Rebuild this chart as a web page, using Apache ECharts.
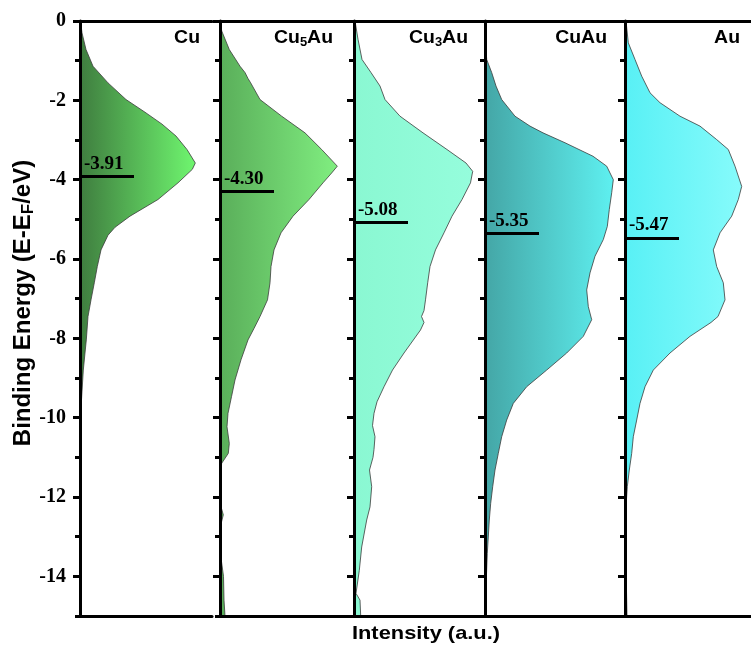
<!DOCTYPE html>
<html>
<head>
<meta charset="utf-8">
<script src="https://cdn.jsdelivr.net/npm/echarts@6/dist/echarts.min.js"></script>
<style>
  html, body { margin: 0; padding: 0; background: #fff; }
  #chart { width: 751px; height: 646px; }
</style>
</head>
<body>
<div id="chart"></div>
<script>
// ---- data: projected d-band density of states (a.u.) vs binding energy (eV) ----
const energyCu = [0, -0.3, -0.72, -1.14, -1.56, -1.98, -2.3, -2.6, -2.9, -3.24, -3.58, -3.74, -4.08, -4.5, -4.92, -5.2, -5.4, -5.77, -6.19, -6.6, -7.03, -7.45, -8.04, -8.8, -9.63, -10.05, -11, -12, -13, -14, -15];
const dosCu    = [0.05, 0.2, 0.6, 1.3, 2.8, 4.6, 6.5, 8.2, 9.6, 10.7, 11.53, 11.23, 9.8, 7.8, 5.0, 3.5, 2.8, 2.1, 1.73, 1.43, 1.1, 0.8, 0.63, 0.33, 0.13, 0.03, 0.03, 0.03, 0.03, 0.03, 0.03];

const energyCu5Au = [0, -0.25, -0.72, -1.14, -1.3, -1.45, -1.56, -1.98, -2.4, -2.82, -3.24, -3.66, -3.83, -4.08, -4.5, -4.92, -5.34, -5.77, -6.19, -6.6, -7.03, -7.45, -7.75, -8.04, -8.54, -9.05, -9.47, -9.89, -10.23, -10.65, -10.9, -11.15, -11.4, -12.2, -12.45, -12.7, -13.5, -14, -14.6, -15];
const dosCu5Au    = [0.05, 0.17, 0.93, 2.0, 2.5, 2.8, 3.07, 4.0, 6.17, 8.5, 10.17, 11.73, 11.17, 10.3, 8.9, 7.3, 6.1, 5.4, 5.1, 5.0, 4.75, 4.0, 3.4, 2.8, 2.1, 1.5, 1.15, 0.8, 0.7, 0.93, 0.83, 0.17, 0.05, 0.05, 0.33, 0.08, 0.08, 0.35, 0.4, 0.5];

const energyCu3Au = [0, -0.46, -0.97, -1.3, -1.64, -1.98, -2.4, -2.82, -3.24, -3.58, -3.79, -4.08, -4.5, -4.92, -5.34, -5.77, -6.19, -6.6, -7.03, -7.3, -7.45, -7.6, -7.79, -8.37, -8.8, -9.22, -9.6, -9.89, -10.2, -10.48, -10.8, -11.0, -11.32, -11.74, -12.25, -12.58, -13.26, -13.85, -14.43, -14.6, -15];
const dosCu3Au    = [0.1, 0.4, 0.8, 1.7, 2.6, 3.1, 4.6, 6.9, 9.3, 11.2, 11.87, 11.65, 10.8, 9.8, 9.0, 8.15, 7.6, 7.37, 7.15, 7.0, 6.75, 7.0, 6.65, 5.0, 3.85, 3.0, 2.3, 2.0, 1.85, 2.1, 2.0, 1.9, 1.55, 1.77, 1.6, 1.27, 0.77, 0.53, 0.2, 0.6, 0.67];

const energyCuAu = [0, -0.5, -0.97, -1.3, -1.64, -1.98, -2.4, -2.65, -2.82, -3.07, -3.41, -3.66, -4.0, -4.33, -4.75, -5.18, -5.51, -5.93, -6.35, -6.78, -7.2, -7.53, -7.95, -8.37, -8.8, -9.22, -9.64, -10.06, -10.48, -10.9, -11.32, -11.74, -12.16, -12.58, -13.42, -14.26, -15];
const dosCuAu    = [0, 0.05, 0.17, 0.67, 1.1, 1.67, 3.0, 4.5, 5.8, 8.0, 10.8, 12.17, 12.83, 12.67, 12.43, 12.23, 11.83, 11.0, 10.5, 10.17, 10.33, 10.67, 9.83, 8.17, 6.17, 4.17, 2.83, 2.17, 1.67, 1.33, 1.0, 0.77, 0.57, 0.43, 0.23, 0.1, 0.03];

const energyAu = [0, -0.55, -0.97, -1.39, -1.81, -2.06, -2.4, -2.65, -2.99, -3.24, -3.66, -4.17, -4.5, -4.92, -5.34, -5.77, -6.19, -6.6, -7.03, -7.45, -7.6, -7.95, -8.37, -8.8, -9.22, -9.64, -10.06, -10.48, -10.9, -11.32, -11.74, -12.25, -13, -14, -15];
const dosAu    = [0.1, 0.33, 1.0, 1.67, 2.5, 3.5, 5.5, 7.5, 9.17, 10.33, 11.0, 11.67, 11.33, 10.67, 9.5, 8.83, 9.17, 9.83, 10.0, 9.3, 8.6, 6.5, 4.5, 2.83, 2.0, 1.5, 1.17, 0.83, 0.67, 0.43, 0.23, 0.1, 0.08, 0.12, 0.2];

const panelNames   = ['{n|Cu}', '{n|Cu}{s|5}{n|Au}', '{n|Cu}{s|3}{n|Au}', '{n|CuAu}', '{n|Au}'];
const dBandCenters = [-3.91, -4.30, -5.08, -5.35, -5.47];
const majorTicks   = [0, -2, -4, -6, -8, -10, -12, -14];
const minorTicks   = [-1, -3, -5, -7, -9, -11, -13, -15];

const energies = [energyCu, energyCu5Au, energyCu3Au, energyCuAu, energyAu];
const doses    = [dosCu, dosCu5Au, dosCu3Au, dosCuAu, dosAu];

// ---- layout & style ----
const panelLeft  = [80, 220, 354, 485, 625];
const panelWidth = [132, 134, 131, 140, 126];
const nameRightX = [200, 333, 468, 607, 740];   // right edge of each panel caption
const pxPerUnit  = 10;          // horizontal scale shared by every panel
const dBandLen   = 5.4;         // length of the d-band-centre marker (a.u.)
const fills = [
  ['#3f7d3f', '#6ff66f'],
  ['#5aae5a', '#80ee80'],
  ['#8af8d2', '#95fddc'],
  ['#44a6a6', '#5ef0f0'],
  ['#58f0f5', '#86fbfb']
];

const serif = "'Liberation Serif', 'Times New Roman', serif";
const sans  = "'Liberation Sans', Arial, sans-serif";

const grid = [], xAxis = [], yAxis = [], series = [], graphic = [];

for (let i = 0; i < 5; i++) {
  grid.push({ left: panelLeft[i], width: panelWidth[i], top: 21, bottom: 30 });

  const xBase = {
    gridIndex: i, type: 'value', min: 0, max: panelWidth[i] / pxPerUnit,
    axisLine: { show: true, onZero: false, lineStyle: { color: '#000', width: 3 } },
    axisTick: { show: false }, axisLabel: { show: false }, splitLine: { show: false }, z: 3
  };
  xAxis.push(Object.assign({ position: 'bottom' }, xBase));
  xAxis.push(Object.assign({ position: 'top' }, xBase));

  yAxis.push({
    gridIndex: i, type: 'value', position: 'left', min: -15, max: 0,
    axisLine: { show: true, onZero: false, lineStyle: { color: '#000', width: 3 } },
    axisTick: { show: true, customValues: majorTicks, length: 7, lineStyle: { color: '#000', width: 3 } },
    axisLabel: {
      show: i === 0, customValues: majorTicks, margin: 14,
      fontFamily: serif, fontWeight: 'bold', fontSize: 20, color: '#000'
    },
    splitLine: { show: false }, z: 3
  });
  yAxis.push({
    gridIndex: i, type: 'value', position: 'left', min: -15, max: 0,
    axisLine: { show: false },
    axisTick: { show: true, customValues: minorTicks, length: 5, lineStyle: { color: '#000', width: 3 } },
    axisLabel: { show: false }, splitLine: { show: false }, z: 3
  });

  const E = energies[i], I = doses[i];
  const pts = E.map((e, j) => [I[j], e]);
  const c = fills[i];

  series.push({
    type: 'custom', xAxisIndex: 2 * i, yAxisIndex: 2 * i, z: 1, silent: true,
    data: pts,
    renderItem: function (params, api) {
      if (params.dataIndex !== 0) return null;
      const poly = [api.coord([0, E[0]])];
      for (let j = 0; j < E.length; j++) poly.push(api.coord([I[j], E[j]]));
      poly.push(api.coord([0, E[E.length - 1]]));
      return {
        type: 'polygon',
        shape: { points: poly },
        style: {
          fill: new echarts.graphic.LinearGradient(0, 0, 1, 0, [
            { offset: 0, color: c[0] }, { offset: 1, color: c[1] }
          ]),
          stroke: '#3b3b3b', lineWidth: 0.8
        }
      };
    },
    markLine: {
      silent: true, symbol: ['none', 'none'], z: 5,
      lineStyle: { color: '#000', width: 3, type: 'solid' },
      label: {
        show: true, position: 'insideStartTop', distance: [4, 3],
        formatter: dBandCenters[i].toFixed(2),
        fontFamily: serif, fontWeight: 'bold', fontSize: 19, color: '#000'
      },
      data: [[{ coord: [0, dBandCenters[i]] }, { coord: [dBandLen, dBandCenters[i]] }]]
    }
  });

  // panel caption (compound name, subscripted stoichiometry)
  graphic.push({
    type: 'text', x: nameRightX[i], y: 49, scaleX: 1.08,
    style: {
      text: panelNames[i], align: 'right', verticalAlign: 'bottom',
      rich: {
        n: { fontFamily: sans, fontWeight: 'bold', fontSize: 18, fill: '#000', verticalAlign: 'bottom', padding: [0, 0, 2, 0] },
        s: { fontFamily: sans, fontWeight: 'bold', fontSize: 12, fill: '#000', verticalAlign: 'bottom' }
      }
    }
  });
}

// axis titles
graphic.push({
  type: 'text', x: 24, y: 303, rotation: Math.PI / 2,
  style: {
    text: '{n|Binding Energy (E-E}{s|F}{n|/eV)}',
    align: 'center', verticalAlign: 'middle',
    rich: {
      n: { fontFamily: sans, fontWeight: 'bold', fontSize: 24, fill: '#000', verticalAlign: 'bottom', padding: [0, 0, 2, 0] },
      s: { fontFamily: sans, fontWeight: 'bold', fontSize: 17, fill: '#000', verticalAlign: 'bottom' }
    }
  }
});
graphic.push({
  type: 'text', x: 426, y: 634, scaleX: 1.15, originX: 0,
  style: {
    text: 'Intensity (a.u.)', align: 'center', verticalAlign: 'middle',
    font: "bold 19px 'Liberation Sans', Arial, sans-serif", fill: '#000'
  }
});

const chart = echarts.init(document.getElementById('chart'), null, { renderer: 'canvas' });
chart.setOption({
  animation: false,
  backgroundColor: '#fff',
  grid: grid,
  xAxis: xAxis,
  yAxis: yAxis,
  series: series,
  graphic: graphic
});
</script>
</body>
</html>
